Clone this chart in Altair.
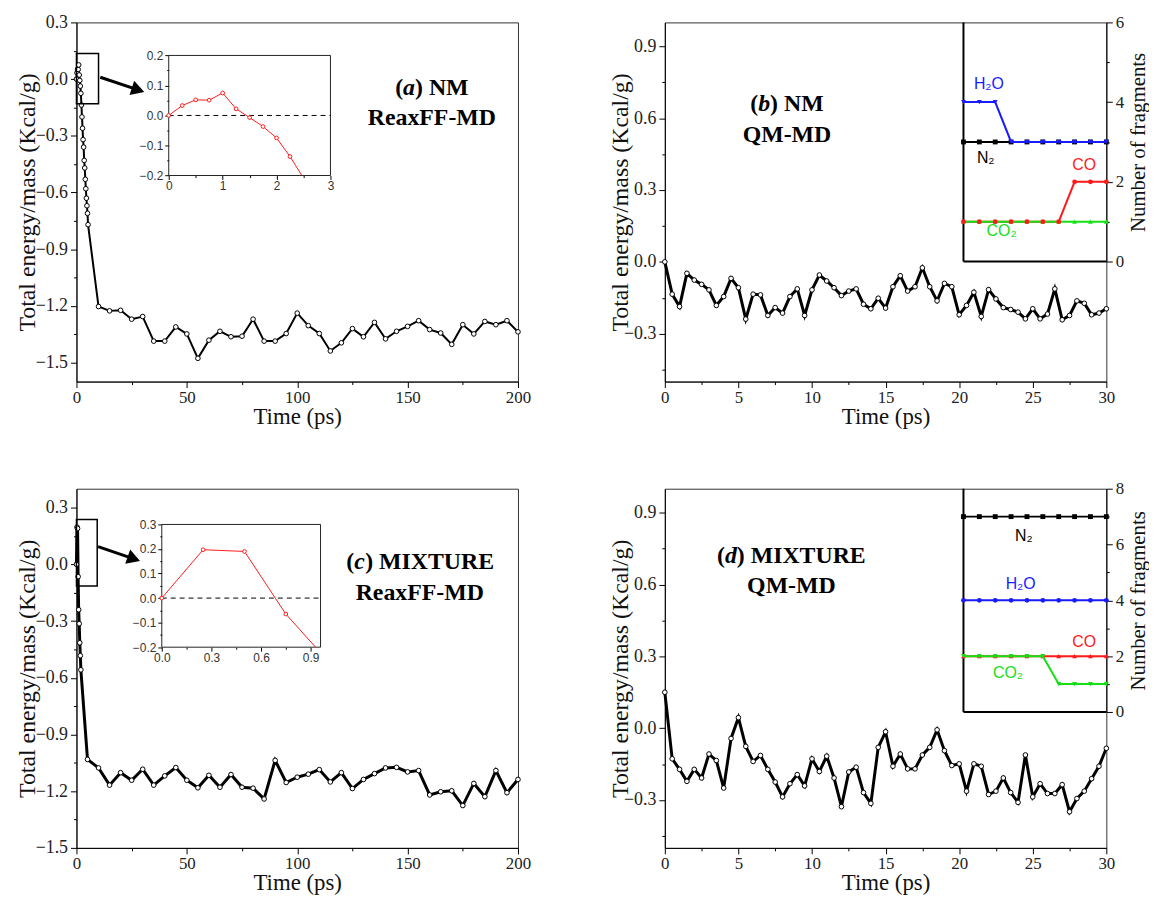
import altair as alt
import pandas as pd

# ---------------- data ----------------
# (a) NM, ReaxFF-MD
a_time = [0, 0.25, 0.5, 0.75, 1.0, 1.25, 1.5, 1.75, 2.0, 2.25, 2.5, 2.75, 3.0, 3.25, 3.5,
          3.75, 4.0, 4.25, 4.5, 4.75, 5.0, 5.25,
          10, 15, 20, 25, 30, 35, 40, 45, 50, 55, 60, 65, 70, 75, 80, 85, 90, 95, 100,
          105, 110, 115, 120, 125, 130, 135, 140, 145, 150, 155, 160, 165, 170, 175, 180,
          185, 190, 195, 200]
a_energy = [0.0, 0.033, 0.052, 0.051, 0.075, 0.022, -0.007, -0.037, -0.075, -0.137, -0.20,
            -0.26, -0.32, -0.36, -0.43, -0.47, -0.53, -0.58, -0.63, -0.67, -0.71, -0.77,
            -1.203, -1.226, -1.223, -1.27, -1.256, -1.386, -1.386, -1.311, -1.348, -1.477,
            -1.381, -1.334, -1.363, -1.36, -1.27, -1.386, -1.386, -1.346, -1.238, -1.304,
            -1.346, -1.438, -1.395, -1.32, -1.363, -1.287, -1.374, -1.334, -1.308, -1.278,
            -1.325, -1.343, -1.403, -1.299, -1.348, -1.282, -1.299, -1.278, -1.337]
a_zoom_time = [0, 0.25, 0.5, 0.75, 1.0, 1.25, 1.5, 1.75, 2.0, 2.25]
a_zoom_energy = [0.0, 0.033, 0.052, 0.051, 0.075, 0.022, -0.007, -0.037, -0.075, -0.137]
a_zoom_exit = [2.47, -0.2]  # where the inset curve leaves its frame

# (c) MIXTURE, ReaxFF-MD
c_time = [0, 0.25, 0.5, 0.75, 1.0, 1.25, 1.5, 1.75, 2.0,
          5, 10, 15, 20, 25, 30, 35, 40, 45, 50, 55, 60, 65, 70, 75, 80, 85, 90, 95, 100,
          105, 110, 115, 120, 125, 130, 135, 140, 145, 150, 155, 160, 165, 170, 175, 180,
          185, 190, 195, 200]
c_energy = [0.0, 0.197, 0.19, -0.065, -0.24, -0.314, -0.415, -0.483, -0.558,
            -1.032, -1.077, -1.168, -1.102, -1.142, -1.084, -1.168, -1.119, -1.075, -1.142,
            -1.182, -1.116, -1.179, -1.112, -1.179, -1.184, -1.241, -1.037, -1.154, -1.126,
            -1.110, -1.086, -1.151, -1.102, -1.186, -1.138, -1.107, -1.077, -1.074, -1.098,
            -1.091, -1.220, -1.203, -1.198, -1.276, -1.159, -1.229, -1.091, -1.208, -1.138]
c_zoom_time = [0, 0.25, 0.5, 0.75]
c_zoom_energy = [0.0, 0.197, 0.19, -0.065]
c_zoom_exit = [0.93, -0.2]

# (b) NM QM-MD and (d) MIXTURE QM-MD
qm_time = [0, 0.5, 1, 1.5, 2, 2.5, 3, 3.5, 4, 4.5, 5, 5.5, 6, 6.5, 7, 7.5, 8, 8.5, 9, 9.5,
           10, 10.5, 11, 11.5, 12, 12.5, 13, 13.5, 14, 14.5, 15, 15.5, 16, 16.5, 17, 17.5,
           18, 18.5, 19, 19.5, 20, 20.5, 21, 21.5, 22, 22.5, 23, 23.5, 24, 24.5, 25, 25.5,
           26, 26.5, 27, 27.5, 28, 28.5, 29, 29.5, 30]
b_energy = [0.0, -0.135, -0.187, -0.048, -0.076, -0.094, -0.117, -0.182, -0.145, -0.069,
            -0.108, -0.239, -0.135, -0.138, -0.224, -0.191, -0.214, -0.145, -0.113, -0.224,
            -0.117, -0.055, -0.080, -0.108, -0.141, -0.122, -0.113, -0.177, -0.196, -0.152,
            -0.193, -0.104, -0.058, -0.122, -0.104, -0.025, -0.104, -0.163, -0.090, -0.104,
            -0.221, -0.182, -0.127, -0.228, -0.116, -0.155, -0.191, -0.199, -0.210, -0.238,
            -0.196, -0.238, -0.218, -0.113, -0.242, -0.224, -0.163, -0.173, -0.221, -0.214,
            -0.196]
d_energy = [0.150, -0.128, -0.172, -0.222, -0.172, -0.208, -0.108, -0.135, -0.250, -0.043,
            0.044, -0.076, -0.139, -0.114, -0.172, -0.225, -0.287, -0.232, -0.194, -0.241,
            -0.128, -0.181, -0.117, -0.208, -0.328, -0.183, -0.163, -0.269, -0.314, -0.080,
            -0.015, -0.159, -0.108, -0.170, -0.170, -0.112, -0.080, -0.007, -0.094, -0.156,
            -0.149, -0.263, -0.149, -0.159, -0.277, -0.263, -0.208, -0.269, -0.310, -0.112,
            -0.287, -0.232, -0.273, -0.273, -0.236, -0.349, -0.294, -0.263, -0.211, -0.159,
            -0.084]

frag_frame = [0, 1, 2, 3, 4, 5, 6, 7, 8, 9]
b_n2 = [3, 3, 3, 3, 3, 3, 3, 3, 3, 3]
b_h2o = [4, 4, 4, 3, 3, 3, 3, 3, 3, 3]
b_co = [1, 1, 1, 1, 1, 1, 1, 2, 2, 2]
b_co2 = [1, 1, 1, 1, 1, 1, 1, 1, 1, 1]
d_n2 = [7, 7, 7, 7, 7, 7, 7, 7, 7, 7]
d_h2o = [4, 4, 4, 4, 4, 4, 4, 4, 4, 4]
d_co = [2, 2, 2, 2, 2, 2, 2, 2, 2, 2]
d_co2 = [2, 2, 2, 2, 2, 2, 1, 1, 1, 1]

# axis tick values
reax_x_ticks = [0, 25, 50, 75, 100, 125, 150, 175, 200]
qm_x_ticks = [0, 2.5, 5, 7.5, 10, 12.5, 15, 17.5, 20, 22.5, 25, 27.5, 30]
reax_y_ticks = [-1.5, -1.35, -1.2, -1.05, -0.9, -0.75, -0.6, -0.45, -0.3, -0.15, 0.0, 0.15, 0.3]
qm_y_ticks = [-0.45, -0.3, -0.15, 0.0, 0.15, 0.3, 0.45, 0.6, 0.75, 0.9]

# ---------------- styling ----------------
W, H = 445, 362
SERIF = "Liberation Serif"
SANS = "Liberation Sans"
BLUE, RED, GREEN = "#1a1aff", "#ff1a1a", "#14e014"
AXIS_STYLE = dict(labelFont=SERIF, titleFont=SERIF, labelFontSize=18, titleFontSize=24,
                  titleFontWeight="normal", labelFontWeight="normal", labelColor="#222",
                  titleColor="#111", domainColor="black", tickColor="black",
                  labelOverlap=False, grid=False)


def major(step):
    return f"abs(datum.value/{step} - round(datum.value/{step})) < 0.001"


def tick_size(step, big, small):
    return {"condition": {"test": major(step), "value": big}, "value": small}


def main_x_axis(values, step):
    st = dict(AXIS_STYLE)
    st.update(titleFontSize=23, labelFontSize=17)
    return alt.Axis(values=values, title="Time (ps)", orient="bottom",
                    labelExpr=f"({major(step)}) ? format(datum.value, 'd') : ''",
                    tickSize=tick_size(step, 6, 3), labelPadding=2, labelFlush=False,
                    titleY=35, titleBaseline="middle", **st)


def main_y_axis(values, title_x):
    return alt.Axis(values=values, title="Total energy/mass (Kcal/g)", orient="left",
                    labelExpr=f"({major(0.3)}) ? format(datum.value, '.1f') : ''",
                    tickSize=tick_size(0.3, 6, 3), labelPadding=3, titleX=title_x,
                    titleY=H / 2, titleAngle=270, titleBaseline="middle", titleAlign="center",
                    **AXIS_STYLE)


def energy_panel(time, energy, xdom, ydom, xaxis, yaxis, lw):
    xs = alt.Scale(domain=xdom, nice=False, zero=False)
    ys = alt.Scale(domain=ydom, nice=False, zero=False)
    df = pd.DataFrame({"t": time, "e": energy})
    line = alt.Chart(df).mark_line(color="black", strokeWidth=lw).encode(
        x=alt.X("t:Q", scale=xs, axis=xaxis), y=alt.Y("e:Q", scale=ys, axis=yaxis))
    pts = alt.Chart(df).mark_circle(fill="white", stroke="black", strokeWidth=1, size=22,
                                    opacity=1).encode(
        x=alt.X("t:Q", scale=xs, axis=None), y=alt.Y("e:Q", scale=ys, axis=None))
    return [line, pts], xs, ys


def title_text(xs, ys, x, y1, y2, letter, rest, line2, dxs):
    out = []
    df1 = pd.DataFrame({"x": [x], "y": [y1]})
    df2 = pd.DataFrame({"x": [x], "y": [y2]})
    enc = dict(x=alt.X("x:Q", scale=xs, axis=None), y=alt.Y("y:Q", scale=ys, axis=None))
    for txt, dx, style in (("(", dxs[0], "normal"), (letter, dxs[1], "italic"), (rest, dxs[2], "normal")):
        out.append(alt.Chart(df1).mark_text(text=txt, font=SERIF, fontSize=24, fontWeight="bold",
                                            fontStyle=style, align="left", baseline="middle",
                                            dx=dx, color="black").encode(**enc))
    out.append(alt.Chart(df2).mark_text(text=line2, font=SERIF, fontSize=24, fontWeight="bold",
                                        align="center", baseline="middle",
                                        color="black").encode(**enc))
    return out


def zoom_marker(xs, ys, box, start, head, angle):
    bdf = pd.DataFrame({"x0": [box[0]], "x1": [box[1]], "y0": [box[2]], "y1": [box[3]]})
    rect = alt.Chart(bdf).mark_rect(fillOpacity=0, stroke="black", strokeWidth=1.5).encode(
        x=alt.X("x0:Q", scale=xs, axis=None), x2="x1",
        y=alt.Y("y0:Q", scale=ys, axis=None), y2="y1")
    adf = pd.DataFrame({"x0": [start[0]], "y0": [start[1]], "x1": [head[0]], "y1": [head[1]]})
    shaft = alt.Chart(adf).mark_rule(color="black", strokeWidth=3).encode(
        x=alt.X("x0:Q", scale=xs, axis=None), x2="x1",
        y=alt.Y("y0:Q", scale=ys, axis=None), y2="y1")
    tip = alt.Chart(adf).mark_point(shape="triangle-right", filled=True, color="black",
                                    size=230, angle=angle, opacity=1).encode(
        x=alt.X("x1:Q", scale=xs, axis=None), y=alt.Y("y1:Q", scale=ys, axis=None))
    return [rect, shaft, tip]


def inset_axis_style():
    s = dict(AXIS_STYLE)
    s.update(labelFont=SANS, labelFontSize=12, labelColor="#333")
    return s


def zoom_inset(time, energy, exit_pt, xdom, ydom, xr, yr, xvals, xstep, xfmt, yvals):
    xs = alt.Scale(domain=xdom, range=xr, nice=False, zero=False)
    ys = alt.Scale(domain=ydom, range=yr, nice=False, zero=False)
    frame = pd.DataFrame({"x0": [xdom[0]], "x1": [xdom[1]], "y0": [ydom[0]],
                          "y1": [ydom[1]], "z": [0.0]})
    xa = alt.Axis(values=xvals, orient="bottom", offset=-(H - yr[0]), domain=False, title=None,
                  labelPadding=1, labelFlush=False,
                  labelExpr=f"({major(xstep)}) ? format(datum.value, '{xfmt}') : ''",
                  tickSize=tick_size(xstep, 4, 2), **inset_axis_style())
    ya = alt.Axis(values=yvals, orient="left", offset=-xr[0], domain=False, title=None,
                  labelPadding=2, labelFlush=False,
                  labelExpr=f"({major(0.1)}) ? format(datum.value, '.1f') : ''",
                  tickSize=tick_size(0.1, 4, 2), **inset_axis_style())
    box = alt.Chart(frame).mark_rect(fillOpacity=0, stroke="#222", strokeWidth=1).encode(
        x=alt.X("x0:Q", scale=xs, axis=xa), x2="x1",
        y=alt.Y("y0:Q", scale=ys, axis=ya), y2="y1")
    zero = alt.Chart(frame).mark_rule(color="black", strokeWidth=1, strokeDash=[5, 4]).encode(
        x=alt.X("x0:Q", scale=xs, axis=None), x2="x1", y=alt.Y("z:Q", scale=ys, axis=None))
    ldf = pd.DataFrame({"t": time + [exit_pt[0]], "e": energy + [exit_pt[1]]})
    pdf = pd.DataFrame({"t": time, "e": energy})
    line = alt.Chart(ldf).mark_line(color=RED, strokeWidth=1).encode(
        x=alt.X("t:Q", scale=xs, axis=None), y=alt.Y("e:Q", scale=ys, axis=None))
    pts = alt.Chart(pdf).mark_circle(fill="white", stroke=RED, strokeWidth=1, size=14,
                                     opacity=1).encode(
        x=alt.X("t:Q", scale=xs, axis=None), y=alt.Y("e:Q", scale=ys, axis=None))
    return [box, zero, line, pts]


def fragment_inset(series, ytop, yr, labels):
    xs = alt.Scale(domain=[0, 9], range=[301, W], nice=False, zero=False)
    ys = alt.Scale(domain=[0, ytop], range=yr, nice=False, zero=False)
    st = dict(AXIS_STYLE)
    st.update(labelFontSize=17, titleFontSize=21)
    ra = alt.Axis(values=list(range(0, ytop + 1)), orient="right", title="Number of fragments",
                  labelExpr=f"({major(2)}) ? format(datum.value, 'd') : ''",
                  tickSize=tick_size(2, 6, 3), labelPadding=3, titleX=32,
                  titleY=yr[0] / 2, titleAngle=270, titleBaseline="middle", titleAlign="center",
                  **st)
    edge = pd.DataFrame({"x0": [0], "x1": [9], "y0": [0], "y1": [ytop]})
    left = alt.Chart(edge).mark_rule(color="black", strokeWidth=2).encode(
        x=alt.X("x0:Q", scale=xs, axis=None),
        y=alt.Y("y0:Q", scale=ys, axis=ra), y2="y1")
    bottom = alt.Chart(edge).mark_rule(color="black", strokeWidth=2).encode(
        x=alt.X("x0:Q", scale=xs, axis=None), x2="x1",
        y=alt.Y("y0:Q", scale=ys, axis=None))
    layers = [left, bottom]
    for kind, counts, color, shape in series:
        df = pd.DataFrame({"f": frag_frame, "n": counts})
        enc = dict(x=alt.X("f:Q", scale=xs, axis=None), y=alt.Y("n:Q", scale=ys, axis=None))
        if kind in ("line", "both"):
            layers.append(alt.Chart(df).mark_line(color=color, strokeWidth=2).encode(**enc))
        if kind in ("points", "both"):
            layers.append(alt.Chart(df).mark_point(shape=shape, filled=True, color=color,
                                                   size=24, opacity=1).encode(**enc))
    for text, color, fx, fy in labels:
        df = pd.DataFrame({"x": [fx], "y": [fy]})
        layers.append(alt.Chart(df).mark_text(text=text, font=SANS, fontSize=16, color=color,
                                              align="center", baseline="middle").encode(
            x=alt.X("x:Q", scale=xs, axis=None), y=alt.Y("y:Q", scale=ys, axis=None)))
    return layers


def panel(main_layers, extra_layers):
    # flat layer; every layer gets its own (identical where domains match) scale
    return alt.layer(*main_layers, *extra_layers).resolve_scale(
        x="independent", y="independent").properties(width=W, height=H)


# ---- (a)
la, xs, ys = energy_panel(a_time, a_energy, [0, 200], [-1.6, 0.3],
                          main_x_axis(reax_x_ticks, 50), main_y_axis(reax_y_ticks, -49), 2)
la += zoom_marker(xs, ys, [0, 10, -0.13, 0.135], [10.8, 0.01], [27.9, -0.057], 18)
la += title_text(xs, ys, 161, -0.045, -0.206, "a", ") NM", "ReaxFF-MD", [-37, -29, -17])
ia = zoom_inset(a_zoom_time, a_zoom_energy, a_zoom_exit, [0, 3], [-0.2, 0.2], [93, 256],
                [154.3, 33.3], [0, 0.5, 1, 1.5, 2, 2.5, 3], 1, "d",
                [-0.2, -0.15, -0.1, -0.05, 0.0, 0.05, 0.1, 0.15, 0.2])
pa = panel(la, ia)

# ---- (c)
lc, xs, ys = energy_panel(c_time, c_energy, [0, 200], [-1.5, 0.4],
                          main_x_axis(reax_x_ticks, 50), main_y_axis(reax_y_ticks, -49), 3)
lc += zoom_marker(xs, ys, [0, 9.4, -0.115, 0.237], [9.8, 0.094], [26.0, 0.029], 19)
lc += title_text(xs, ys, 155.5, 0.014, -0.153, "c", ") MIXTURE", "ReaxFF-MD", [-74, -66, -55])
ic = zoom_inset(c_zoom_time, c_zoom_energy, c_zoom_exit, [0, 0.96], [-0.2, 0.3], [86, 246],
                [159.7, 36], [0, 0.15, 0.3, 0.45, 0.6, 0.75, 0.9], 0.3, ".1f",
                [-0.2, -0.15, -0.1, -0.05, 0.0, 0.05, 0.1, 0.15, 0.2, 0.25, 0.3])
pc = panel(lc, ic)

# ---- (b)
lb, xs, ys = energy_panel(qm_time, b_energy, [0, 30], [-0.5, 1.0],
                          main_x_axis(qm_x_ticks, 5), main_y_axis(qm_y_ticks, -45), 3)
lb += title_text(xs, ys, 8.3, 0.658, 0.530, "b", ") NM", "QM-MD", [-37, -29, -17])
fb = fragment_inset(
    [("both", b_n2, "black", "square"), ("both", b_h2o, BLUE, "triangle-down"),
     ("line", b_co, RED, "circle"), ("both", b_co2, GREEN, "triangle-up"),
     ("points", b_co, RED, "circle")],
    6, [241, 0],
    [("H₂O", BLUE, 1.6, 4.46), ("N₂", "black", 1.4, 2.59), ("CO", RED, 7.6, 2.41),
     ("CO₂", GREEN, 2.4, 0.77)])
pb = panel(lb, fb)

# ---- (d)
ld, xs, ys = energy_panel(qm_time, d_energy, [0, 30], [-0.5, 1.0],
                          main_x_axis(qm_x_ticks, 5), main_y_axis(qm_y_ticks, -45), 3)
ld += title_text(xs, ys, 8.6, 0.72, 0.592, "d", ") MIXTURE", "QM-MD", [-75, -67, -55])
fd = fragment_inset(
    [("both", d_n2, "black", "square"), ("both", d_h2o, BLUE, "circle"),
     ("both", d_co, RED, "triangle-up"), ("both", d_co2, GREEN, "triangle-down")],
    8, [225, 0],
    [("N₂", "black", 3.8, 6.29), ("H₂O", BLUE, 3.6, 4.59), ("CO", RED, 7.6, 2.52),
     ("CO₂", GREEN, 2.8, 1.39)])
pd_ = panel(ld, fd)

chart = alt.concat(pa, pb, pc, pd_, columns=2, spacing={"row": 108, "column": 148},
                   bounds="flush").properties(
    padding={"left": 7, "top": 1, "right": 0, "bottom": 0}
).configure_view(stroke="#333", strokeWidth=1).configure_axis(
    grid=False, labelFont=SERIF, titleFont=SERIF, titleFontWeight="normal", labelOverlap=False
)

chart.save("out.html", embed_options={"renderer": "svg", "actions": False})
